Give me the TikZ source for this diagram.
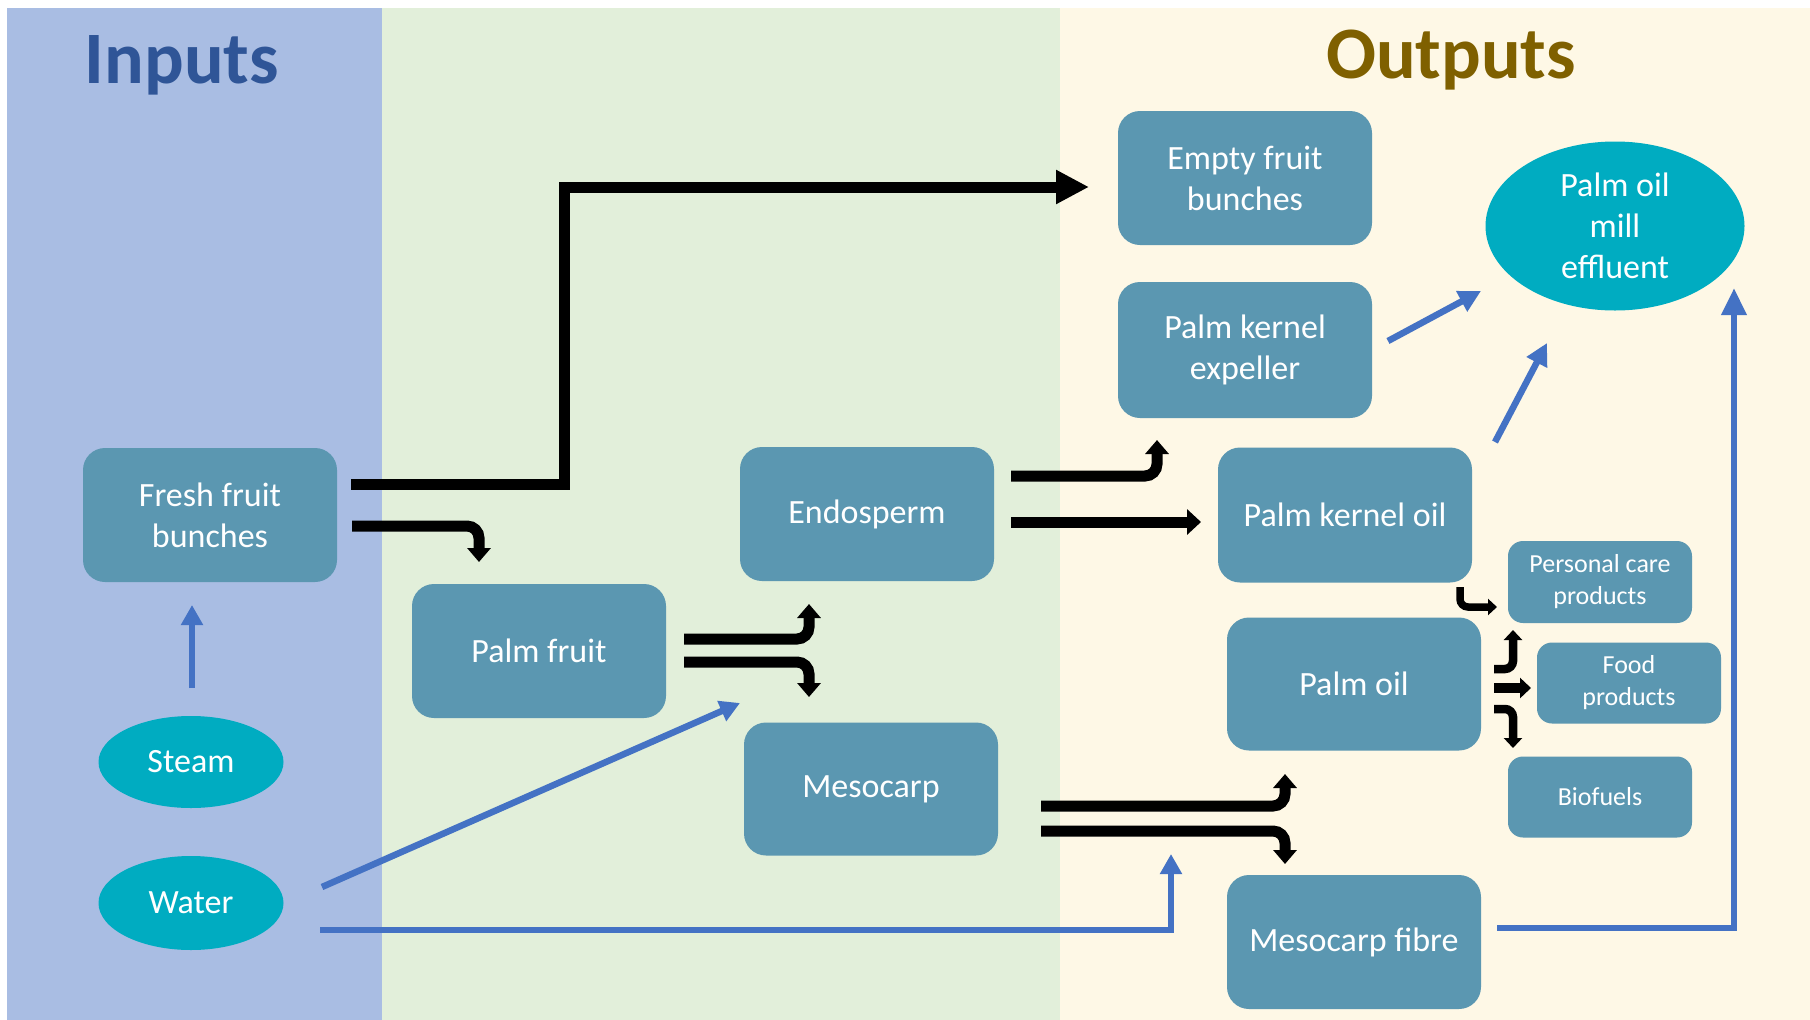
\documentclass[tikz,border=0pt]{standalone}
\usepackage{fontspec}
\setmainfont{Carlito}
\usetikzlibrary{arrows.meta,shapes.geometric}
\definecolor{inbg}{HTML}{A9BDE3}
\definecolor{midbg}{HTML}{E2EFDA}
\definecolor{outbg}{HTML}{FEF8E6}
\definecolor{boxc}{HTML}{5B97B1}
\definecolor{ellc}{HTML}{00ACC1}
\definecolor{bluea}{HTML}{4472C4}
\definecolor{intext}{HTML}{2F5597}
\definecolor{outtext}{HTML}{7F6000}
\begin{document}
\begin{tikzpicture}[x=1pt,y=-1pt,
 procbox/.style={rectangle, rounded corners=22pt, fill=boxc, text=white, inner sep=0pt, minimum width=254pt, minimum height=134pt, align=center, font=\fontsize{34}{41}\selectfont},
 smallbox/.style={rectangle, rounded corners=15pt, fill=boxc, text=white, inner sep=0pt, minimum width=184pt, minimum height=81pt, align=center, font=\fontsize{26}{32}\selectfont},
 inell/.style={ellipse, fill=ellc, text=white, inner sep=0pt, minimum width=185pt, minimum height=93pt, font=\fontsize{34}{41}\selectfont},
 bigflow/.style={line width=11pt, -{Triangle[width=32pt,length=33pt]}},
 bentflow/.style={line width=11pt, rounded corners=12pt, -{Triangle[width=23pt,length=14pt]}},
 smallflow/.style={line width=8.5pt, rounded corners=8pt, -{Triangle[width=18pt,length=10pt]}},
 blueflow/.style={draw=bluea, line width=6.5pt, -{Triangle[width=21pt,length=20pt]}},
 titletext/.style={font=\fontsize{74}{80}\selectfont\bfseries, anchor=base, inner sep=0pt}
]
% backgrounds
\fill[white] (0,0) rectangle (1810,1020);
\fill[inbg] (7,8) rectangle (382,1020);
\fill[midbg] (382,8) rectangle (1060,1020);
\fill[outbg] (1060,8) rectangle (1810,1020);
\useasboundingbox (0,0) rectangle (1810,1020);

% titles
\node[titletext, text=intext] (tin) at (182,83) {Inputs};
\node[titletext, text=outtext] (tout) at (1451,78) {Outputs};

% nodes
\node[procbox] (ffb) at (210,515) {Fresh fruit\\bunches};
\node[procbox] (pf) at (539,651) {Palm fruit};
\node[procbox] (endo) at (867,514) {Endosperm};
\node[procbox, minimum height=133pt] (meso) at (871,789) {Mesocarp};
\node[procbox] (efb) at (1245,178) {Empty fruit\\bunches};
\node[procbox, minimum height=136pt] (pke) at (1245,350) {Palm kernel\\expeller};
\node[procbox, minimum height=135pt] (pko) at (1345,515) {Palm kernel oil};
\node[procbox, minimum height=133pt] (po) at (1354,684) {Palm oil};
\node[procbox] (mf) at (1354,942) {Mesocarp fibre};
\node[smallbox, minimum height=82pt] (pcp) at (1600,582) {Personal care\\products};
\node[smallbox] (food) at (1629,683) {Food\\products};
\node[smallbox] (bio) at (1600,797) {Biofuels};
\node[inell, minimum width=259pt, minimum height=169pt, align=center] (pome) at (1615,226) {Palm oil\\mill\\effluent};
\node[inell, minimum height=92pt] (steam) at (191,762) {Steam};
\node[inell, minimum height=94pt] (water) at (191,903) {Water};

% connector end points
\coordinate (ffbA) at (351,484);
\coordinate (efbIn) at (1089,187);
\coordinate (ffbB) at (352,526);
\coordinate (pfIn) at (479,562);
\coordinate (pfA) at (684,639);
\coordinate (endoIn) at (809,604);
\coordinate (pfB) at (684,662);
\coordinate (mesoIn) at (809,697);
\coordinate (endoA) at (1011,476);
\coordinate (pkeIn) at (1157,440);
\coordinate (endoB) at (1011,522);
\coordinate (pkoIn) at (1201,522);
\coordinate (mesoA) at (1041,806);
\coordinate (poIn) at (1285,774);
\coordinate (mesoB) at (1041,831);
\coordinate (mfIn) at (1285,864);
\coordinate (pkoA) at (1460,587);
\coordinate (pcpInA) at (1497,607);
\coordinate (poA) at (1494,669);
\coordinate (pcpInB) at (1513,630);
\coordinate (poB) at (1494,688);
\coordinate (foodIn) at (1531,688);
\coordinate (poC) at (1494,709);
\coordinate (bioIn) at (1513,748);
\coordinate (steamOut) at (192,688);
\coordinate (ffbInS) at (192,605);
\coordinate (waterA) at (322,887);
\coordinate (pfInW) at (740,703);
\coordinate (waterB) at (320,930);
\coordinate (mesoInW) at (1171,854);
\coordinate (mfOut) at (1497,928);
\coordinate (pomeInA) at (1734,288);
\coordinate (pkeOut) at (1388,341);
\coordinate (pomeInB) at (1481,291);
\coordinate (pkoOut) at (1495,442);
\coordinate (pomeInC) at (1547,343);

% black flows
\draw[bigflow] (ffbA) -- (564,484) -- (564,187) -- (efbIn);
\draw[bentflow] (ffbB) -| (pfIn);
\draw[bentflow] (pfA) -| (endoIn);
\draw[bentflow] (pfB) -| (mesoIn);
\draw[bentflow] (endoA) -| (pkeIn);
\draw[line width=11pt, -{Triangle[width=25pt,length=14pt]}] (endoB) -- (pkoIn);
\draw[bentflow] (mesoA) -| (poIn);
\draw[bentflow] (mesoB) -| (mfIn);
\draw[smallflow, line width=7.5pt, -{Triangle[width=16pt,length=9pt]}] (pkoA) |- (pcpInA);
\draw[smallflow] (poA) -| (pcpInB);
\draw[line width=9.5pt, -{Triangle[width=20pt,length=11pt]}] (poB) -- (foodIn);
\draw[smallflow] (poC) -| (bioIn);

% blue flows
\draw[blueflow] (steamOut) -- (ffbInS);
\draw[blueflow] (waterA) -- (pfInW);
\draw[blueflow] (waterB) -| (mesoInW);
\draw[blueflow, -{Triangle[width=24pt,length=27pt]}] (mfOut) -| (pomeInA);
\draw[blueflow, -{Triangle[width=22pt,length=22pt]}] (pkeOut) -- (pomeInB);
\draw[blueflow, -{Triangle[width=22pt,length=22pt]}] (pkoOut) -- (pomeInC);
\end{tikzpicture}
\end{document}
